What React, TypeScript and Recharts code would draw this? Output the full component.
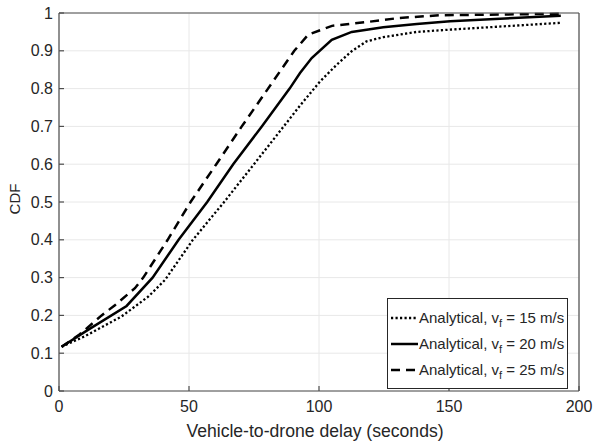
import { LineChart, Line, XAxis, YAxis, CartesianGrid } from "recharts";

const xTicks = [0, 50, 100, 150, 200];
const yTicks = [0, 0.1, 0.2, 0.3, 0.4, 0.5, 0.6, 0.7, 0.8, 0.9, 1];

// vf = 15 m/s
const delay15 = [1, 10, 24, 34.4, 40.8, 51.5, 63.5, 75, 87, 92.7, 100.4, 106.8, 112.6, 118.3, 124.7, 137.6, 150.4, 193];
const cdf15 = [0.117, 0.145, 0.197, 0.25, 0.294, 0.4, 0.5, 0.6, 0.705, 0.755, 0.819, 0.863, 0.899, 0.925, 0.936, 0.95, 0.956, 0.974];

// vf = 20 m/s
const delay20 = [1, 11, 26, 36, 46, 57, 67, 78, 88.7, 92.7, 97.2, 104.9, 112.6, 124.7, 137.6, 150.4, 193];
const cdf20 = [0.117, 0.161, 0.225, 0.3, 0.4, 0.5, 0.6, 0.7, 0.8, 0.841, 0.881, 0.929, 0.95, 0.962, 0.971, 0.978, 0.993];

// vf = 25 m/s
const delay25 = [1, 8, 16.4, 21.5, 29.2, 32.4, 41.8, 50.6, 60.5, 70.3, 80.4, 90.5, 95.9, 105, 118.3, 131, 146.5, 193];
const cdf25 = [0.117, 0.15, 0.2, 0.227, 0.272, 0.3, 0.4, 0.5, 0.6, 0.7, 0.8, 0.9, 0.943, 0.966, 0.976, 0.987, 0.994, 0.998];

const toPoints = (xs: number[], ys: number[]) => xs.map((x, i) => ({ x, y: ys[i] }));

const series = [
  { name: "15", data: toPoints(delay15, cdf15), dash: "2.2 2.3", width: 2.3 },
  { name: "20", data: toPoints(delay20, cdf20), dash: undefined, width: 2.5 },
  { name: "25", data: toPoints(delay25, cdf25), dash: "9 6", width: 2.5 },
];

const font = '"Liberation Sans", Arial, Helvetica, sans-serif';
const axisColor = "#4d4d4d";
const textColor = "#262626";

export default function App() {
  return (
    <div style={{ position: "absolute", left: 0, top: 0, width: 593, height: 443, background: "#fff", fontFamily: font }}>
      <LineChart
        width={593}
        height={443}
        margin={{ top: 12, right: 13, bottom: 0, left: 0 }}
        style={{ fontFamily: font }}
      >
        <CartesianGrid stroke="#e8e8e8" strokeWidth={1} />
        <XAxis
          type="number"
          dataKey="x"
          domain={[0, 200]}
          ticks={xTicks}
          height={52}
          allowDataOverflow
          stroke={axisColor}
          strokeWidth={1.2}
          tickSize={-5}
          tickMargin={15}
          tick={{ fontSize: 16, fill: textColor }}
          label={{ value: "Vehicle-to-drone delay (seconds)", position: "insideBottom", offset: 6, dx: -4, fontSize: 17.6, fill: textColor }}
        />
        <XAxis
          xAxisId="top"
          orientation="top"
          type="number"
          dataKey="x"
          domain={[0, 200]}
          ticks={xTicks}
          height={1}
          stroke={axisColor}
          strokeWidth={1.2}
          tickSize={-5}
          tick={false}
        />
        <YAxis
          type="number"
          domain={[0, 1]}
          ticks={yTicks}
          width={59}
          stroke={axisColor}
          strokeWidth={1.2}
          tickSize={-5}
          tickMargin={11}
          tick={{ fontSize: 16, fill: textColor }}
          label={{ value: "CDF", angle: -90, position: "center", dx: -15, dy: -3, fontSize: 15, fill: textColor }}
        />
        <YAxis
          yAxisId="right"
          orientation="right"
          type="number"
          domain={[0, 1]}
          ticks={yTicks}
          width={1}
          stroke={axisColor}
          strokeWidth={1.2}
          tickSize={-5}
          tick={false}
        />
        {series.map((s) => (
          <Line
            key={s.name}
            data={s.data}
            dataKey="y"
            type="linear"
            stroke="#000"
            strokeWidth={s.width}
            strokeDasharray={s.dash}
            dot={false}
            activeDot={false}
            isAnimationActive={false}
          />
        ))}
      </LineChart>
      <div
        style={{
          position: "absolute",
          left: 387,
          top: 298,
          width: 181,
          height: 91,
          border: `1px solid ${textColor}`,
          background: "#fff",
          boxSizing: "border-box",
          padding: "0 0 0 2px",
          display: "flex",
          flexDirection: "column",
          justifyContent: "center",
        }}
      >
        {series.map((s) => (
          <div key={s.name} style={{ display: "flex", alignItems: "center", height: 26, fontSize: 15, color: textColor, whiteSpace: "nowrap" }}>
            <svg width={29} height={10} style={{ marginRight: 0 }}>
              <line x1={1} y1={5} x2={28} y2={5} stroke="#000" strokeWidth={s.width} strokeDasharray={s.dash} />
            </svg>
            <span>
              Analytical, v<sub style={{ fontSize: 11, verticalAlign: "-4px", lineHeight: 0 }}>f</sub> = {s.name} m/s
            </span>
          </div>
        ))}
      </div>
    </div>
  );
}
